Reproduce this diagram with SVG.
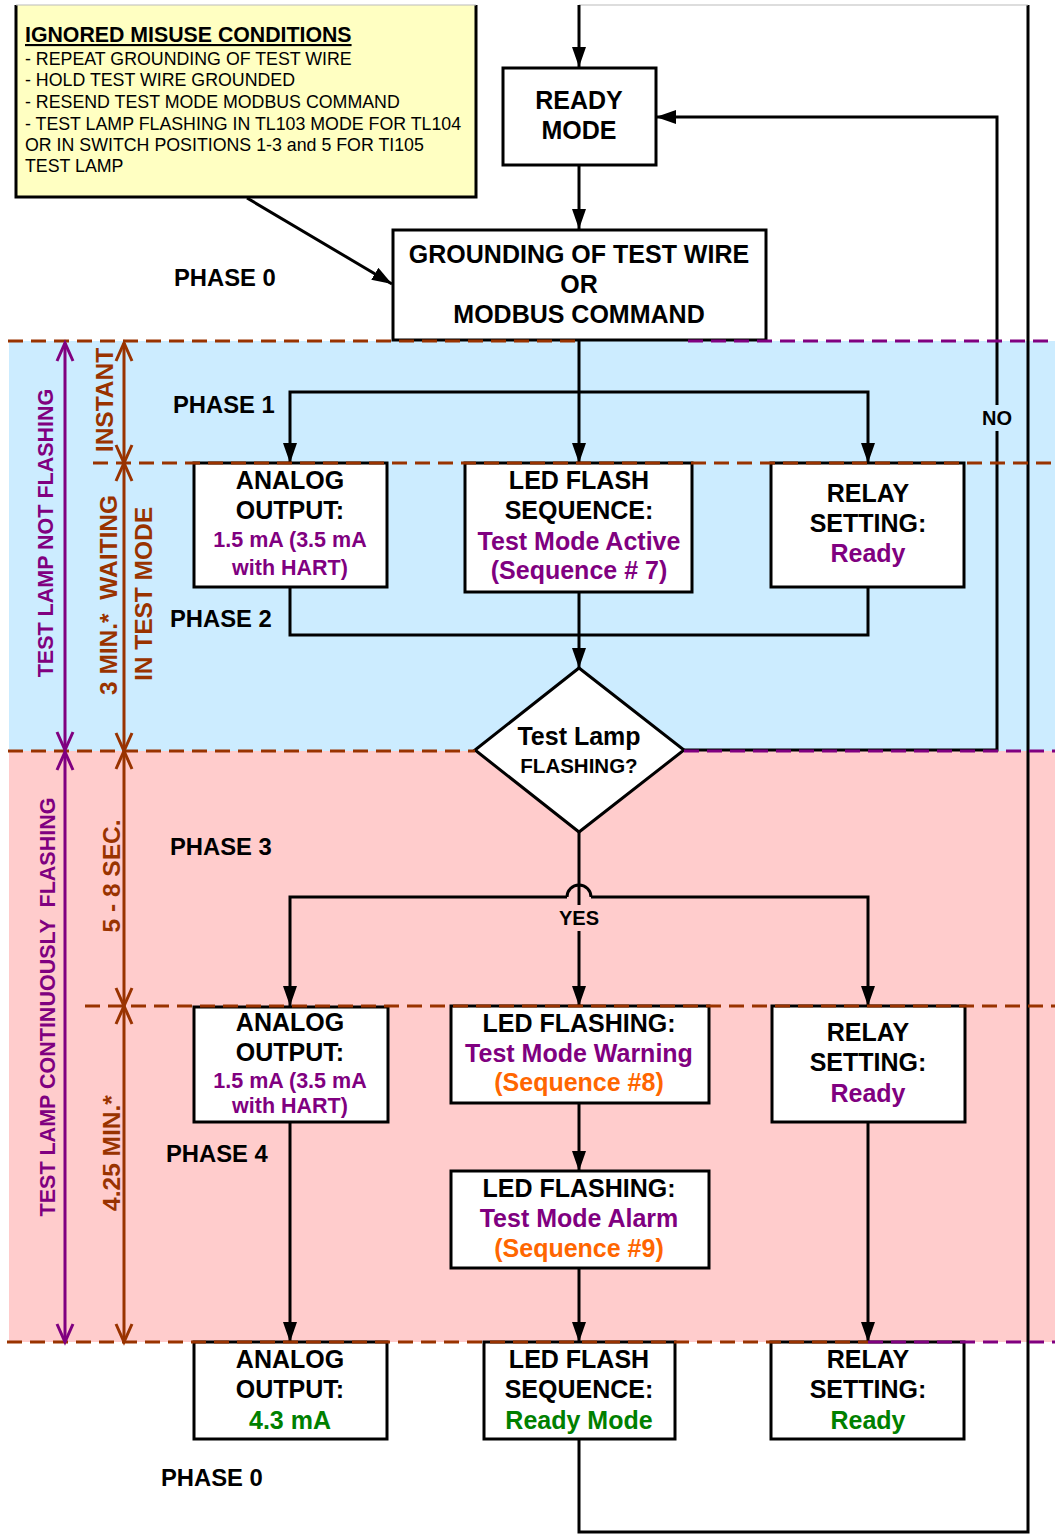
<svg xmlns="http://www.w3.org/2000/svg" width="1055" height="1535" viewBox="0 0 1055 1535">
<defs>
<style>
text{font-family:"Liberation Sans",Arial,Helvetica,sans-serif;font-weight:bold}
.c{text-anchor:middle;font-size:25px;fill:#000}
.pu{fill:#800080}
.sm{font-size:21.5px}
.or{fill:#FF6600}
.gr{fill:#008000}
.ph{font-size:23.8px;fill:#000}
.nt{font-size:17.8px;font-weight:normal;fill:#000}
.br{fill:#993300}
.box{fill:#fff;stroke:#000;stroke-width:3}
.ln{fill:none;stroke:#000;stroke-width:3}
.arr{marker-end:url(#ah)}
.dbr{fill:none;stroke:#993300;stroke-width:3;stroke-dasharray:15 8}
.dpu{fill:none;stroke:#800080;stroke-width:3;stroke-dasharray:15 8}
.vbr{stroke:#993300;stroke-width:3;marker-start:url(#ab);marker-end:url(#ab)}
.vpu{stroke:#800080;stroke-width:3;marker-start:url(#ap);marker-end:url(#ap)}
</style>
<marker id="ah" markerUnits="userSpaceOnUse" markerWidth="20" markerHeight="14" refX="20" refY="7" orient="auto"><path d="M0,0 L20,7 L0,14 z" fill="#000"/></marker>
<marker id="ab" markerUnits="userSpaceOnUse" markerWidth="24" markerHeight="22" refX="19" refY="9" orient="auto-start-reverse" overflow="visible"><path d="M1,1 L19,9 L1,17" fill="none" stroke="#993300" stroke-width="3"/></marker>
<marker id="ap" markerUnits="userSpaceOnUse" markerWidth="24" markerHeight="22" refX="19" refY="9" orient="auto-start-reverse" overflow="visible"><path d="M1,1 L19,9 L1,17" fill="none" stroke="#800080" stroke-width="3"/></marker>
</defs>

<rect width="1055" height="1535" fill="#fff"/>
<g id="bands">
<rect x="9" y="341" width="1046" height="410" fill="#CCECFF"/>
<rect x="9" y="751" width="1046" height="591" fill="#FFCCCC"/>
</g>

<g id="connectors">
<path class="ln" d="M579,1438 V1532 H1028 V5" stroke-width="2.5"/>
<path d="M1028,5 H579" stroke="#bbb" stroke-width="1.2" fill="none"/>
<path class="ln arr" d="M579,5 V67"/>
<path class="ln arr" d="M579,165 V229"/>
<path class="ln arr" d="M247,198 L392,284"/>
<path class="ln arr" d="M579,340 V463"/>
<path class="ln arr" d="M579,392 H290 V463"/>
<path class="ln arr" d="M579,392 H868 V463"/>
<path class="ln" d="M290,587 V635 H868 V587"/>
<path class="ln arr" d="M579,592 V668"/>
<path class="ln arr" d="M684,750 H997 V117 H656"/>
<path class="ln arr" d="M579,832 V1006"/>
<path class="ln arr" d="M567,897 H290 V1006"/>
<path class="ln arr" d="M591,897 H868 V1006"/>
<path class="ln" d="M567,897 A12,12 0 0 1 591,897"/>
<path class="ln arr" d="M579,1103 V1171"/>
<path class="ln arr" d="M290,1122 V1342"/>
<path class="ln arr" d="M579,1268 V1342"/>
<path class="ln arr" d="M868,1122 V1342"/>
<rect x="980" y="405" width="34" height="26" fill="#CCECFF"/>
<text x="997" y="425" text-anchor="middle" font-size="20">NO</text>
<rect x="556" y="905" width="46" height="26" fill="#FFCCCC"/>
<text x="579" y="925" text-anchor="middle" font-size="20">YES</text>
</g>

<g id="note">
<rect x="16" y="5" width="460" height="192" fill="#FFFFC2"/>
<path d="M16,5 V197 H476 V5" fill="none" stroke="#000" stroke-width="3"/>
<path d="M16,5 H476" stroke="#bbb" stroke-width="1.2"/>
<text x="25" y="42" font-size="21.3" text-decoration="underline">IGNORED MISUSE CONDITIONS</text>
<text class="nt" x="25" y="65">- REPEAT GROUNDING OF TEST WIRE</text>
<text class="nt" x="25" y="86">- HOLD TEST WIRE GROUNDED</text>
<text class="nt" x="25" y="108">- RESEND TEST MODE MODBUS COMMAND</text>
<text class="nt" x="25" y="130">- TEST LAMP FLASHING IN TL103 MODE FOR TL104</text>
<text class="nt" x="25" y="151">OR IN SWITCH POSITIONS 1-3 and 5 FOR TI105</text>
<text class="nt" x="25" y="172">TEST LAMP</text>
</g>

<g id="ready">
<rect class="box" x="503" y="68" width="153" height="97"/>
<text class="c" x="579" y="109">READY</text>
<text class="c" x="579" y="139">MODE</text>
</g>

<g id="grounding">
<rect class="box" x="393" y="230" width="373" height="110"/>
<text class="c" x="579" y="263">GROUNDING OF TEST WIRE</text>
<text class="c" x="579" y="293">OR</text>
<text class="c" x="579" y="323">MODBUS COMMAND</text>
</g>

<g id="analog2">
<rect class="box" x="194" y="463" width="193" height="124"/>
<text class="c" x="290" y="489">ANALOG</text>
<text class="c" x="290" y="519">OUTPUT:</text>
<text class="c pu sm" x="290" y="547">1.5 mA (3.5 mA</text>
<text class="c pu sm" x="290" y="575">with HART)</text>
</g>
<g id="led2">
<rect class="box" x="465" y="463" width="227" height="129"/>
<text class="c" x="579" y="489">LED FLASH</text>
<text class="c" x="579" y="519">SEQUENCE:</text>
<text class="c pu" x="579" y="550">Test Mode Active</text>
<text class="c pu" x="579" y="579">(Sequence # 7)</text>
</g>
<g id="relay2">
<rect class="box" x="771" y="463" width="193" height="124"/>
<text class="c" x="868" y="502">RELAY</text>
<text class="c" x="868" y="532">SETTING:</text>
<text class="c pu" x="868" y="562">Ready</text>
</g>

<g id="decision">
<path d="M579,668 L684,750 L579,832 L475,750 Z" fill="#fff" stroke="#000" stroke-width="3"/>
<text class="c" x="579" y="745">Test Lamp</text>
<text x="579" y="773" text-anchor="middle" font-size="20.5">FLASHING?</text>
</g>

<g id="analog4">
<rect class="box" x="194" y="1007" width="194" height="115"/>
<text class="c" x="290" y="1031">ANALOG</text>
<text class="c" x="290" y="1061">OUTPUT:</text>
<text class="c pu sm" x="290" y="1088">1.5 mA (3.5 mA</text>
<text class="c pu sm" x="290" y="1113">with HART)</text>
</g>
<g id="ledwarn">
<rect class="box" x="451" y="1006" width="258" height="97"/>
<text class="c" x="579" y="1032">LED FLASHING:</text>
<text class="c pu" x="579" y="1062">Test Mode Warning</text>
<text class="c or" x="579" y="1091">(Sequence #8)</text>
</g>
<g id="ledalarm">
<rect class="box" x="451" y="1171" width="258" height="97"/>
<text class="c" x="579" y="1197">LED FLASHING:</text>
<text class="c pu" x="579" y="1227">Test Mode Alarm</text>
<text class="c or" x="579" y="1257">(Sequence #9)</text>
</g>
<g id="relay4">
<rect class="box" x="772" y="1006" width="193" height="116"/>
<text class="c" x="868" y="1041">RELAY</text>
<text class="c" x="868" y="1071">SETTING:</text>
<text class="c pu" x="868" y="1102">Ready</text>
</g>

<g id="analog0">
<rect class="box" x="194" y="1342" width="193" height="97"/>
<text class="c" x="290" y="1368">ANALOG</text>
<text class="c" x="290" y="1398">OUTPUT:</text>
<text class="c gr" x="290" y="1429">4.3 mA</text>
</g>
<g id="led0">
<rect class="box" x="484" y="1342" width="191" height="97"/>
<text class="c" x="579" y="1368">LED FLASH</text>
<text class="c" x="579" y="1398">SEQUENCE:</text>
<text class="c gr" x="579" y="1429">Ready Mode</text>
</g>
<g id="relay0">
<rect class="box" x="771" y="1342" width="193" height="97"/>
<text class="c" x="868" y="1368">RELAY</text>
<text class="c" x="868" y="1398">SETTING:</text>
<text class="c gr" x="868" y="1429">Ready</text>
</g>

<g id="phases">
<text class="ph" x="174" y="286">PHASE 0</text>
<text class="ph" x="173" y="413">PHASE 1</text>
<text class="ph" x="170" y="627">PHASE 2</text>
<text class="ph" x="170" y="855">PHASE 3</text>
<text class="ph" x="166" y="1162">PHASE 4</text>
<text class="ph" x="161" y="1486">PHASE 0</text>
</g>

<g id="dividers">
<path class="dbr" d="M8,341 H581"/>
<path class="dpu" d="M688,341 H1055"/>
<path class="dbr" d="M93,463 H1055"/>
<path class="dbr" d="M8,751 H475"/>
<path class="dpu" d="M684,751 H1055"/>
<path class="dbr" d="M85,1006 H1055"/>
<path class="dbr" d="M7,1342 H868"/>
<path class="dpu" d="M868,1342 H1055"/>
</g>

<g id="timeline">
<line class="vpu" x1="65" y1="343" x2="65" y2="750"/>
<line class="vpu" x1="65" y1="752" x2="65" y2="1342"/>
<line class="vbr" x1="124" y1="343" x2="124" y2="463"/>
<line class="vbr" x1="124" y1="463" x2="124" y2="751"/>
<line class="vbr" x1="124" y1="751" x2="124" y2="1006"/>
<line class="vbr" x1="124" y1="1006" x2="124" y2="1342"/>
<text class="pu" font-size="21.5" text-anchor="middle" transform="translate(53,533) rotate(-90)">TEST LAMP NOT FLASHING</text>
<text class="pu" font-size="21.5" text-anchor="middle" xml:space="preserve" transform="translate(55,1007) rotate(-90)">TEST LAMP CONTINUOUSLY  FLASHING</text>
<text class="br" font-size="24.5" text-anchor="middle" transform="translate(113,400) rotate(-90)">INSTANT</text>
<text class="br" font-size="24.5" text-anchor="middle" xml:space="preserve" transform="translate(117,595) rotate(-90)">3 MIN.*  WAITING</text>
<text class="br" font-size="24.5" text-anchor="middle" transform="translate(152,594) rotate(-90)">IN TEST MODE</text>
<text class="br" font-size="24.5" text-anchor="middle" transform="translate(120,876) rotate(-90)">5 - 8 SEC.</text>
<text class="br" font-size="24.5" text-anchor="middle" transform="translate(120,1153) rotate(-90)">4.25 MIN.*</text>
</g>
</svg>
